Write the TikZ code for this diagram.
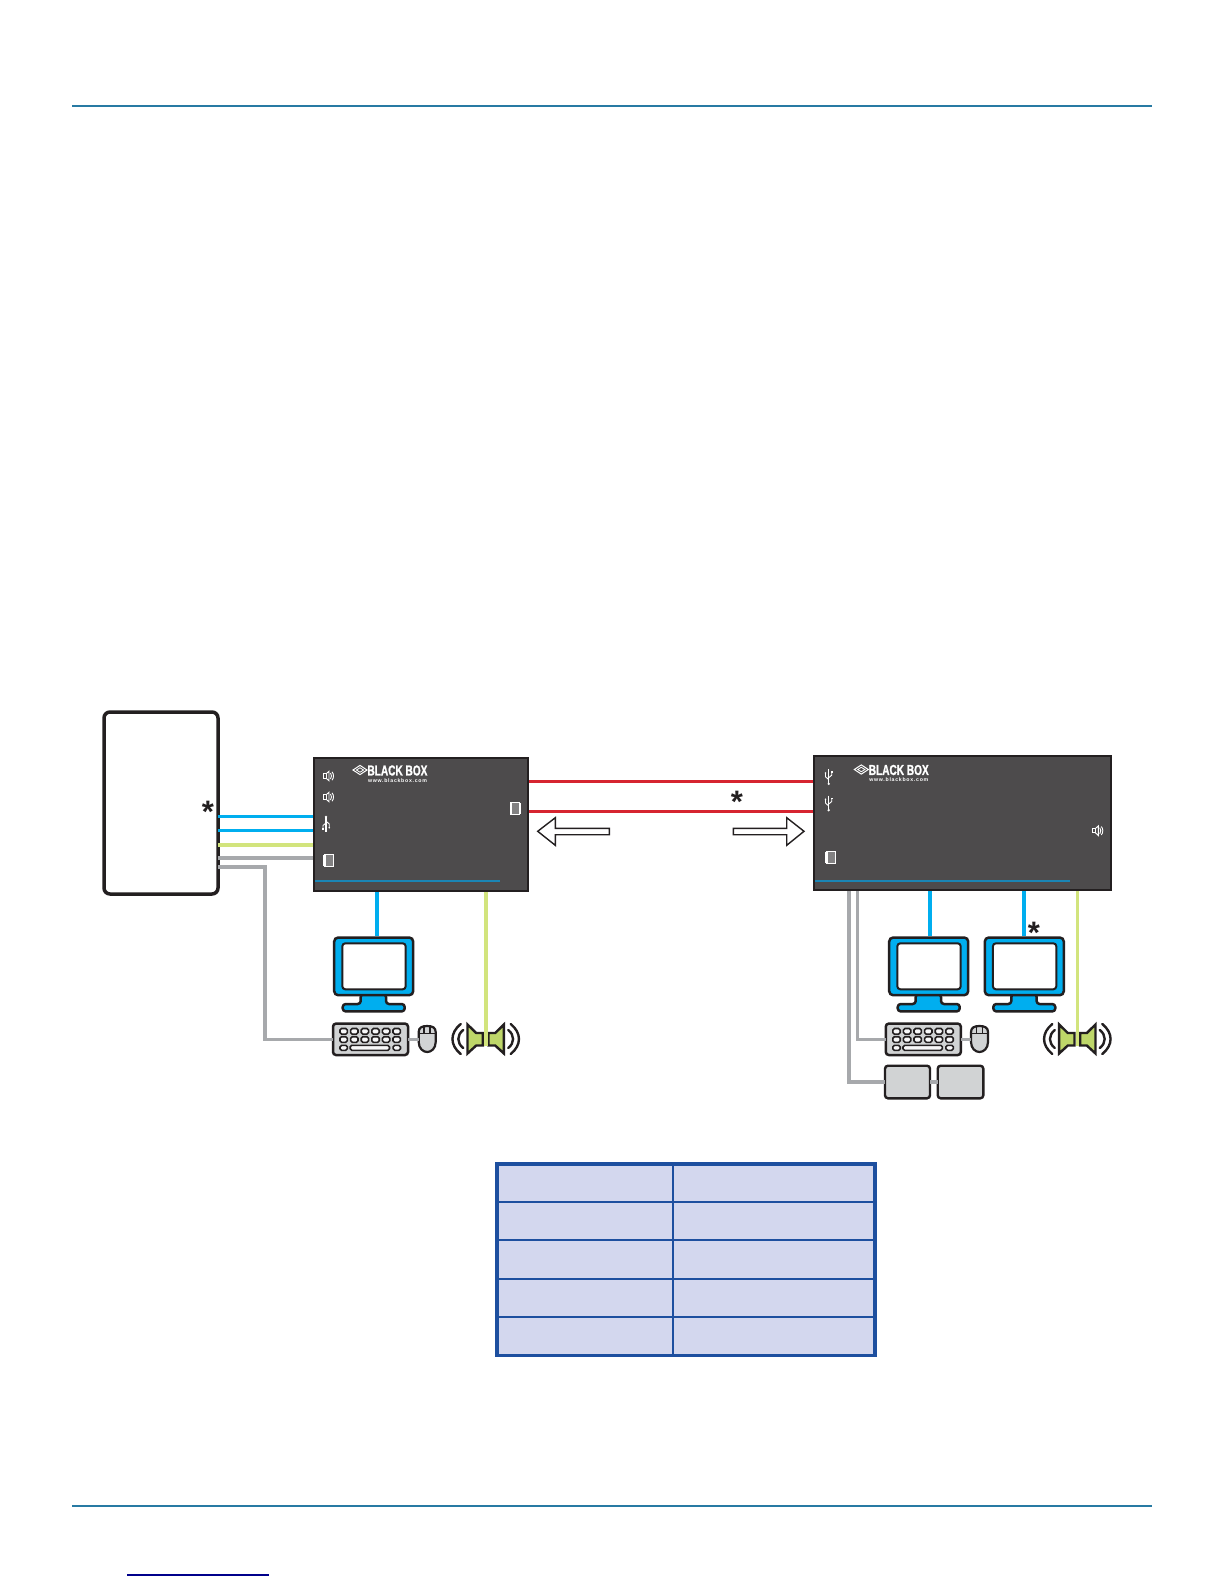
\documentclass[tikz,border=0pt]{standalone}
\usepackage{xcolor}
\usepackage{fontspec}
\setsansfont{Liberation Sans}
\newfontfamily\logofont[BoldFont={Liberation Sans Bold},BoldFeatures={FakeStretch=0.7,FakeBold=1.2}]{Liberation Sans}
\newfontfamily\webfont[LetterSpace=14]{Liberation Sans}
\usepackage{tikz}
\definecolor{boxgrey}{RGB}{77,75,76}
\definecolor{inkblack}{RGB}{35,31,32}
\definecolor{vidblue}{RGB}{0,174,239}
\definecolor{audgreen}{RGB}{210,228,125}
\definecolor{usbgrey}{RGB}{167,169,172}
\definecolor{linkred}{RGB}{214,36,48}
\definecolor{rulebar}{RGB}{40,122,163}
\definecolor{stripblue}{RGB}{26,133,181}
\definecolor{tablefill}{RGB}{211,215,238}
\definecolor{tableline}{RGB}{29,79,159}
\definecolor{periphgrey}{RGB}{209,211,212}
\definecolor{hornfill}{RGB}{190,215,105}
\tikzset{
  pcbox/.style={draw=inkblack,fill=white,line width=1.75pt,rounded corners=3pt,inner sep=0pt,outer sep=0pt,minimum width=57pt,minimum height=91pt},
  unitbox/.style={draw=inkblack,fill=boxgrey,line width=1pt,inner sep=0pt,outer sep=0pt},
  vidline/.style={draw=vidblue,line width=1.8pt},
  audline/.style={draw=audgreen,line width=1.8pt},
  usbline/.style={draw=usbgrey,line width=1.7pt},
  linkline/.style={draw=linkred,line width=1.7pt},
  stripline/.style={draw=stripblue,line width=0.7pt},
  rulebarline/.style={draw=rulebar,line width=0.75pt},
  starmark/.style={inner sep=0pt,outer sep=0pt,anchor=north,text=inkblack,font=\sffamily\bfseries\fontsize{15.5}{16}\selectfont},
  wayarrow/.style={fill=white,draw=inkblack,line width=0.7pt,line join=miter},
  periph/.style={draw=inkblack,fill=periphgrey,line width=1.2pt,rounded corners=1.5pt,inner sep=0pt,outer sep=0pt},
  iconline/.style={draw=white,line width=0.45pt},
  monitor/.pic={
    \path[fill=vidblue,draw=inkblack,line width=1.25pt,rounded corners=1.5pt,line join=round]
      (28,58) -- (28,68) -- (10,68) -- (10,75.4) -- (72,75.4) -- (72,68) -- (53.3,68) -- (53.3,58) -- cycle;
    \path[fill=vidblue,draw=inkblack,line width=1.25pt,rounded corners=2pt] (1.5,1.5) rectangle (80.5,59.2);
    \path[fill=white,draw=inkblack,line width=1pt,rounded corners=1.5pt] (9.6,7.3) rectangle (73,53.3);
    \coordinate (-top) at (41,0);
  },
  keyboard/.pic={
    \node[periph,line width=1.25pt,minimum width=37.5pt,minimum height=15.7pt] (-body) at (0,0) {};
    \foreach \row in {-8,0.2} {
      \foreach \col in {0,...,5} {
        \path[fill=white!85!periphgrey,draw=inkblack,line width=0.8pt,rounded corners=0.8pt]
          (-30.5+\col*10.6,\row-2.8) rectangle ++(7.4,5.6);
      }
    }
    \path[fill=white!85!periphgrey,draw=inkblack,line width=0.8pt,rounded corners=0.8pt] (-30.5,6) rectangle ++(7.4,5);
    \path[fill=white!85!periphgrey,draw=inkblack,line width=0.8pt,rounded corners=0.8pt] (-20.3,6) rectangle (19,11);
    \path[fill=white!85!periphgrey,draw=inkblack,line width=0.8pt,rounded corners=0.8pt] (22.6,6) rectangle ++(7.4,5);
  },
  mousebody/.pic={
    \path[fill=periphgrey,draw=inkblack,line width=1.1pt]
      (-8.5,7) .. controls (-8.5,2.5) and (-5,1) .. (0,1) .. controls (5,1) and (8.5,2.5) .. (8.5,7)
      -- (8.5,17) .. controls (8.5,23.5) and (4,27) .. (0,27) .. controls (-4,27) and (-8.5,23.5) .. (-8.5,17) -- cycle;
    \draw[inkblack,line width=0.8pt] (-8.5,8.5) -- (-3,8.5) -- (-3,1.5) (3,1.5) -- (3,8.5) -- (8.5,8.5) (-3,8.5) -- (3,8.5);
    \coordinate (-west) at (-8.5,14.3);
  },
  speakerset/.pic={
    \foreach \side in {-1,1} {
      \path[fill=hornfill,draw=inkblack,line width=1.2pt,line join=miter]
        (\side*18.2,-14.5) -- (\side*9.5,-6) -- (\side*2.8,-6) -- (\side*2.8,6.5) -- (\side*9.5,6.5) -- (\side*18.2,14.5) -- cycle;
      \draw[inkblack,line width=1.2pt,line cap=round] (\side*25,-15) .. controls (\side*36,-6) and (\side*36,6) .. (\side*25,15);
      \draw[inkblack,line width=1.2pt,line cap=round] (\side*22.5,-9) .. controls (\side*29,-4) and (\side*29,4) .. (\side*22.5,9);
    }
  },
  audioicon/.pic={
    \draw[iconline] (-5,-2.2) rectangle (-1.8,2.2);
    \draw[iconline] (-1.8,-2.2) -- (1,-4.8) -- (1,4.8) -- (-1.8,2.2);
    \draw[iconline] (2.5,-3) .. controls (3.8,-1.5) and (3.8,1.5) .. (2.5,3);
    \draw[iconline] (4,-4.2) .. controls (6,-2) and (6,2) .. (4,4.2);
  },
  usbicon/.pic={
    \draw[iconline,line width=0.6pt] (0,-7.5) -- (0,7);
    \fill[white] (0,7.2) circle (1.3);
    \draw[iconline] (0,3) -- (-3.2,0) -- (-3.2,-3.5);
    \draw[iconline] (0,1) -- (3,-1.5) -- (3,-4.5);
    \fill[white] (-3.2,-3.7) circle (0.9);
    \fill[white] (2.2,-5.5) rectangle (3.8,-4);
  },
  porticon/.pic={
    \fill[boxgrey!70!white] (-3.5,-6) rectangle (5,6);
    \draw[draw=white,line width=0.7pt] (-3.5,-6) rectangle (5,6);
    \fill[white] (-5.2,-5.5) rectangle (-3.5,5.5);
  },
  logoblock/.pic={
    \draw[draw=white,line width=0.5pt] (0,0) -- (7,-4.6) -- (14,0) -- (7,4.6) -- cycle;
    \draw[draw=white,line width=0.4pt] (3.4,0) -- (7,-2.2) -- (10.6,0) -- (7,2.2) -- cycle;
    \node[inner sep=0pt,outer sep=0pt,anchor=west,text=white,font=\logofont\bfseries\fontsize{7.2}{8}\selectfont] (-name) at (14.5,0.5) {BLACK BOX};
    \node[inner sep=0pt,outer sep=0pt,anchor=west,text=white,font=\webfont\bfseries\fontsize{2.6}{3}\selectfont] (-web) at (15,10.3) {www.blackbox.com};
  }
}
\begin{document}
\begin{tikzpicture}[x=.5pt,y=-.5pt]
\path[use as bounding box] (0,0) rectangle (1224,1584);
\path[fill=white,draw=none] (0,0) rectangle (1224,1584);
% page rules
\draw[rulebarline] (72,106) -- (1152,106);
\draw[rulebarline] (72,1506) -- (1152,1506);
\draw[draw={rgb,255:red,0;green,0;blue,139},line width=0.75pt] (127,1575) -- (269,1575);
% main boxes
\node[pcbox] (pc) at (161,803) {};
\node[unitbox,minimum width=107pt,minimum height=66.5pt] (tx) at (421,824.5) {};
\node[unitbox,minimum width=148.5pt,minimum height=67pt] (rx) at (962.5,823) {};
\draw[stripline] (315,881) -- (500,881);
\draw[stripline] (815,881) -- (1070,881);
% peripherals, left
\pic (mona) at (332.7,936) {monitor};
\pic (kba) at (370.5,1039.3) {keyboard};
\pic (mousea) at (427.2,1025) {mousebody};
\coordinate (spka) at (485.7,1046);
% peripherals, right
\pic (monb) at (887.7,936) {monitor};
\pic (monc) at (983.3,936) {monitor};
\pic (kbb) at (923.3,1039.3) {keyboard};
\pic (mouseb) at (979.5,1025) {mousebody};
\coordinate (spkb) at (1077.3,1046);
\node[periph,minimum width=22.5pt,minimum height=16.3pt] (auxa) at (907.5,1082) {};
\node[periph,minimum width=22.8pt,minimum height=16.3pt] (auxb) at (960.5,1082) {};
% cables
\draw[vidline] (pc.east |- 0,816.3) -- (tx.west |- 0,816.3);
\draw[vidline] (pc.east |- 0,830.3) -- (tx.west |- 0,830.3);
\draw[audline] (pc.east |- 0,845) -- (tx.west |- 0,845);
\draw[usbline] (pc.east |- 0,858) -- (tx.west |- 0,858);
\draw[usbline] (pc.east |- 0,867) -| (265,0 |- kba-body.west) -- (kba-body.west);
\draw[usbline] (kba-body.east) -- (mousea-west);
\draw[linkline] (tx.east |- 0,781.3) -- (rx.west |- 0,781.3);
\draw[linkline] (tx.east |- 0,811.7) -- (rx.west |- 0,811.7);
\draw[vidline] (376.7,0 |- tx.south) -- (376.7,0 |- mona-top);
\draw[audline] (485.7,0 |- tx.south) -- (spka);
\draw[usbline] (857.7,0 |- rx.south) |- (kbb-body.west);
\draw[usbline] (kbb-body.east) -- (mouseb-west);
\draw[usbline] (849,0 |- rx.south) |- (auxa.west);
\draw[usbline] (auxa.east) -- (auxb.west);
\draw[vidline] (930,0 |- rx.south) -- (930,0 |- monb-top);
\draw[vidline] (1024,0 |- rx.south) -- (1024,0 |- monc-top);
\draw[audline] (1077.3,0 |- rx.south) -- (spkb);
% frames back over the cable ends
\foreach \unitname in {tx,rx} {
  \draw[draw=inkblack,line width=1pt] (\unitname.south west) rectangle (\unitname.north east);
}
% speakers over their cables
\pic (spkpa) at (485.7,1039) {speakerset};
\pic (spkpb) at (1077.3,1039) {speakerset};
\draw[audline] (485.7,1030) -- (spka);
\draw[audline] (1077.3,1030) -- (spkb);
% direction arrows
\path[wayarrow] (537.7,831.3) -- (555.3,817.7) -- (555.3,828.3) -- (609.3,828.3) -- (609.3,834.7) -- (555.3,834.7) -- (555.3,845.3) -- cycle;
\path[wayarrow] (804,831.3) -- (786.7,817.7) -- (786.7,828.3) -- (733.3,828.3) -- (733.3,834.7) -- (786.7,834.7) -- (786.7,845.3) -- cycle;
% stars
\node[starmark] (stara) at (208,801) {*};
\node[starmark] (starb) at (737,791) {*};
\node[starmark] (starc) at (1034,922) {*};
% panel icons
\pic (icona) at (328,776) {audioicon};
\pic (iconb) at (328,797) {audioicon};
\pic[rotate=180] (iconc) at (326,824) {usbicon};
\pic (icond) at (328.5,860.7) {porticon};
\pic[rotate=180] (icone) at (516,808.3) {porticon};
\pic (iconf) at (828.7,776.7) {usbicon};
\pic (icong) at (828.7,803) {usbicon};
\pic (iconh) at (1097.3,830.7) {audioicon};
\pic (iconi) at (830.3,857.3) {porticon};
\pic (logoa) at (353,770) {logoblock};
\pic (logob) at (854.3,769.5) {logoblock};
% table
\node[draw=tableline,fill=tablefill,line width=1.75pt,inner sep=0pt,outer sep=0pt,minimum width=189pt,minimum height=95.85pt] (grid) at (685.85,1259.85) {};
\foreach \rowy in {1201.7,1240,1278.7,1316.7} {
  \draw[draw=tableline,line width=1pt] (grid.west |- 0,\rowy) -- (grid.east |- 0,\rowy);
}
\draw[draw=tableline,line width=1pt] (672.7,0 |- grid.north) -- (672.7,0 |- grid.south);
\end{tikzpicture}
\end{document}
